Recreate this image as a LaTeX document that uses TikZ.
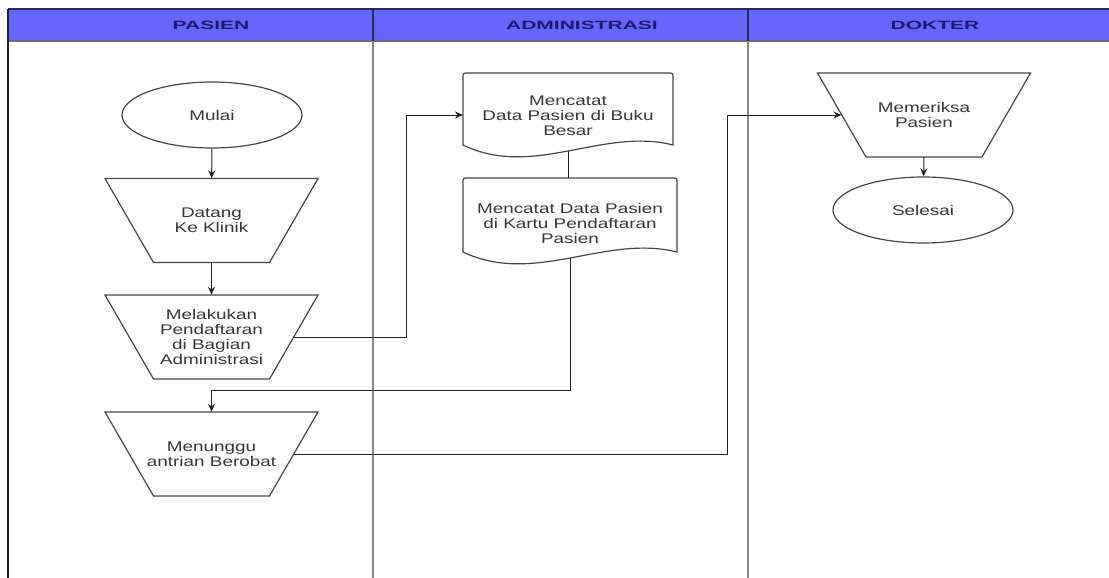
\documentclass[tikz,border=0pt]{standalone}
\usepackage{fontspec}
\setmainfont{Liberation Sans}
\newfontfamily\bodyfont{Liberation Sans}[FakeStretch=1.35]
\newfontfamily\headfont{Liberation Sans}[FakeStretch=1.75]
\usetikzlibrary{shapes.geometric,arrows.meta,calc}
\definecolor{hdrfill}{RGB}{102,102,255}
\definecolor{hdrtext}{RGB}{28,28,110}
\definecolor{hdrline}{RGB}{40,40,90}
\definecolor{shapeln}{RGB}{70,70,70}
\definecolor{txt}{RGB}{55,55,55}
\definecolor{lanegray}{RGB}{135,135,135}
\tikzset{
  shapest/.style={draw=shapeln, line width=1.2pt, fill=white},
  conn/.style={draw=black!85, line width=1pt},
  arr/.style={-{Stealth[length=8pt,width=7pt]}},
  lbl/.style={text=txt, font=\bodyfont\fontsize{14}{15}\selectfont, align=center},
  hdr/.style={text=hdrtext, font=\headfont\bfseries\fontsize{12}{14}\selectfont},
  trapbox/.style={rectangle, minimum width=213pt, minimum height=84pt, inner sep=0pt, lbl},
  term/.style={shapest, ellipse, minimum width=180pt, minimum height=66pt, inner sep=0pt, lbl},
  docbox/.style={rectangle, inner sep=0pt, lbl}
}
% inverted trapezoid: cx cy (top 213 wide, bottom 116 wide, 84 high)
\newcommand\mytrap[2]{%
  \draw[shapest] ({#1-106.5},{#2-42}) -- ({#1+106.5},{#2-42}) -- ({#1+58},{#2+42})
    -- ({#1-58},{#2+42}) -- cycle;
}
% document shape: x0 y0 w (side height)
\newcommand\mydoc[4]{%
  \pgfmathsetmacro\dxa{#1}%
  \pgfmathsetmacro\dxb{#1+#3}%
  \pgfmathsetmacro\dya{#2}%
  \pgfmathsetmacro\dye{#2+#4}%
  \pgfmathsetmacro\dsx{#3/3}%
  \draw[shapest] (\dxa,\dye) -- ({\dxa},{\dya+5}) .. controls (\dxa,\dya) .. ({\dxa+5},\dya)
    -- ({\dxb-5},\dya) .. controls (\dxb,\dya) .. (\dxb,{\dya+5})
    -- (\dxb,\dye) .. controls ({\dxb-\dsx},{\dye-18}) and ({\dxa+\dsx},{\dye+34}) .. (\dxa,\dye) -- cycle;
}
\begin{document}
\begin{tikzpicture}[x=1pt,y=-1pt]
\useasboundingbox (0,0) rectangle (1109,578);
\fill[white] (0,0) rectangle (1109,578);
% header
\fill[hdrfill] (8,9) rectangle (1109,41);
\draw[hdrline, line width=1.2pt] (8,9) -- (1109,9);
\draw[hdrline!70!white, line width=1.2pt] (8,41) -- (1109,41);
\draw[hdrline, line width=1.2pt] (373,9) -- (373,41);
\draw[hdrline, line width=1.2pt] (748,9) -- (748,41);
\draw[black!85, line width=1.4pt] (8,9) -- (8,578);
\draw[lanegray, line width=2.6pt] (373,41) -- (373,578);
\draw[lanegray, line width=2.6pt] (748,41) -- (748,578);
\node[hdr] (h1) at (211,25) {PASIEN};
\node[hdr] (h2) at (582,25) {ADMINISTRASI};
\node[hdr] (h3) at (935,25) {DOKTER};

% PASIEN lane
\node[term] (mulai) at (212,115) {Mulai};
\mytrap{211.5}{220.5}
\node[trapbox] (datang) at (211.5,220.5) {Datang\\Ke Klinik};
\mytrap{211.5}{337}
\node[trapbox] (mel) at (211.5,337) {Melakukan\\Pendaftaran\\di Bagian\\Administrasi};
\mytrap{211.5}{454}
\node[trapbox] (wait) at (211.5,454) {Menunggu\\antrian Berobat};

% ADMINISTRASI lane
\mydoc{463}{73}{210}{72}
\mydoc{463}{178}{214}{74}
\node[docbox] (d1) at (568,116) {Mencatat\\Data Pasien di Buku\\Besar};
\node[docbox] (d2) at (570,223) {Mencatat Data Pasien\\di Kartu Pendaftaran\\Pasien};
\coordinate (d1in) at ($(d1.center)+(-105,-1)$);
\coordinate (d1b) at ($(d1.center)+(0,35)$);
\coordinate (d2t) at ($(d2.center)+(0,-45)$);
\coordinate (d2b) at ($(d2.center)+(0,35)$);

% DOKTER lane
\mytrap{924}{115}
\node[trapbox] (per) at (924,115) {Memeriksa\\Pasien};
\node[term] (sel) at (923,210) {Selesai};

% connectors
\draw[conn, arr] (mulai) -- (datang);
\draw[conn, arr] (datang) -- (mel);
\draw[conn, arr] ($(mel.east)+(-24.25,0)$) -- ++(113,0) |- (d1in);
\draw[conn] (d1b) -- (d1b |- d2t);
\draw[conn, arr] (d2b) |- ($(wait.north)+(0,-21)$) -- (wait.north);
\draw[conn, arr] ($(wait.east)+(-24.25,0)$) -- ++(434,0) |- ($(per.west)+(24.25,0)$);
\draw[conn, arr] (per.south) -- (sel);
\end{tikzpicture}
\end{document}
